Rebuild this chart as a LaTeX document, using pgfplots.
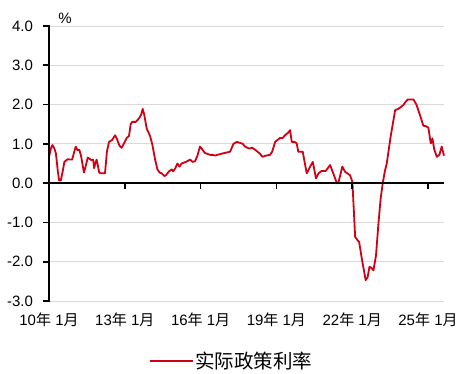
\documentclass[border=0pt]{standalone}
\usepackage{fontspec}
\setmainfont{Liberation Sans}
\newfontfamily\cjk{Noto Sans CJK SC}
\usepackage{pgfplots}
\pgfplotsset{compat=1.18}
\usetikzlibrary{calc}
\definecolor{lred}{RGB}{210,0,20}
\definecolor{gridc}{RGB}{217,217,217}
\definecolor{axk}{RGB}{0,0,0}
\pgfplotsset{common/.style={
  scale only axis,
  width=395bp, height=275bp,
  xmin=0, xmax=187.6,
  ymin=-3, ymax=4,
  clip=false,
}}
\begin{document}
\begin{tikzpicture}
\begin{axis}[
  common,
  name=ax,
  axis y line=left,
  axis x line=bottom,
  axis line style={draw=none},
  xtick={0,36,72,108,144,180},
  xticklabels={10{\cjk 年} 1{\cjk 月},13{\cjk 年} 1{\cjk 月},16{\cjk 年} 1{\cjk 月},19{\cjk 年} 1{\cjk 月},22{\cjk 年} 1{\cjk 月},25{\cjk 年} 1{\cjk 月}},
  xtick style={draw=none},
  ytick={-3,-2,-1,0,1,2,3,4},
  yticklabels={-3.0,-2.0,-1.0,0.0,1.0,2.0,3.0,4.0},
  ytick style={draw=none},
  major tick length=5bp,
  ymajorgrids,
  grid style={gridc, line width=0.8bp},
  tick label style={font=\fontsize{15bp}{18bp}\selectfont},
  xticklabel style={anchor=north, yshift=-6bp},
  yticklabel style={xshift=-10bp},
  legend style={at={(rel axis cs:0.462,0)}, anchor=center, yshift=-60bp, draw=none,
    font=\cjk\fontsize{19.5bp}{23bp}\selectfont},
  legend image code/.code={\draw[#1] (0bp,0bp) -- (43bp,0bp);},
]
\addplot[lred, line width=1.8bp, line join=round] coordinates {
(0,0.67) (1,0.9) (1.6,0.97) (2.5,0.89) (3.3,0.75) (4.2,0.3) (4.8,0.07) (5.6,0.07)
(6.5,0.3) (7.3,0.54) (8.9,0.61) (10,0.6) (11,0.6) (12,0.8) (12.7,0.93) (13.5,0.84)
(14.4,0.85) (15.2,0.7) (16.6,0.27) (17.5,0.45) (18.4,0.65) (19.3,0.62) (20.3,0.58)
(21,0.6) (21.4,0.38) (22,0.5) (22.6,0.6) (23.2,0.45) (23.8,0.28) (24.5,0.25) (26.6,0.25)
(27.5,0.8) (28.5,1.05) (30,1.1) (31.4,1.22) (32.3,1.12) (33.5,0.95) (34.5,0.9)
(35.5,1.0) (36.9,1.15) (38,1.2) (38.8,1.5) (39.5,1.56) (41.2,1.56) (42.8,1.65)
(43.8,1.75) (44.5,1.89) (45.2,1.75) (46.4,1.39) (48,1.2) (49,1.0) (50.4,0.6)
(51.5,0.35) (52.5,0.27) (53.5,0.25) (54.8,0.18) (55.5,0.2) (57,0.3) (58.3,0.35)
(59,0.3) (60,0.38) (61,0.5) (62,0.42) (63,0.5) (65.4,0.55) (67,0.6) (68.2,0.54)
(69.4,0.56) (70.5,0.7) (71.7,0.93) (72.5,0.88) (74,0.77) (75,0.75) (76.5,0.72)
(78,0.72) (78.9,0.7) (80,0.72) (82,0.75) (84.4,0.78) (86,0.8) (87.6,1.0) (89.2,1.05)
(91,1.02) (92,1.0) (93.1,0.93) (95,0.88) (96.5,0.9) (97.9,0.85) (100.2,0.75)
(101.3,0.67) (103,0.7) (105,0.72) (106,0.8) (107.4,1.05) (109.7,1.15) (111,1.15)
(112.1,1.22) (113.5,1.28) (114.5,1.35) (115.3,1.05) (116.5,1.05) (117.6,1.02)
(118.4,0.8) (120.5,0.8) (122.4,0.25) (124,0.42) (125.3,0.54) (126.8,0.12) (128,0.25)
(129.5,0.31) (131.4,0.31) (133.5,0.46) (135,0.25) (136.7,0.0) (137.4,0.0) (139.3,0.42)
(140.6,0.29) (143,0.2) (144.1,0.03) (145.4,-1.37) (146.5,-1.45) (147.3,-1.5)
(148.5,-1.9) (149.5,-2.2) (150.4,-2.47) (151.3,-2.4) (152.2,-2.13) (153,-2.15)
(154.1,-2.22) (155.3,-1.84) (156.4,-1.07) (157.5,-0.4) (158.5,0.0) (159.5,0.3)
(160.4,0.5) (162.3,1.2) (164.4,1.86) (165.5,1.88) (166.7,1.92) (168.3,1.99)
(169.5,2.08) (170.4,2.13) (173.1,2.13) (174.5,2.0) (176.2,1.73) (177.8,1.46)
(179,1.45) (180.2,1.41) (181.3,1.01) (182.1,1.14) (183,0.85) (184.2,0.67)
(185.4,0.72) (186.5,0.93) (187.6,0.7)
};
\addlegendentry{实际政策利率}
\end{axis}
\begin{axis}[
  common,
  axis x line=middle,
  axis y line=none,
  axis line style={axk, line width=1.6bp, -},
  xtick={0,36,72,108,144,180},
  xticklabels={},
  hide obscured x ticks=false,
  xtick align=outside,
  major tick length=6bp,
  xtick style={axk, line width=1.6bp},
  ytick=\empty,
]
\end{axis}
\draw[axk, line width=2.2bp] ([yshift=-0.8bp]ax.south west) -- ([yshift=0.8bp]ax.north west);
\foreach \k in {0,...,7}{
  \draw[axk, line width=1.8bp] ($(ax.south west)!\k/7!(ax.north west)$) -- ++(-6bp,0);
}
\node[font=\fontsize{15bp}{18bp}\selectfont] at ([xshift=16bp,yshift=8bp]ax.north west) {\%};
\path ([xshift=-49bp,yshift=26bp]ax.north west) rectangle ([xshift=31bp,yshift=-72bp]ax.south east);
\end{tikzpicture}
\end{document}
